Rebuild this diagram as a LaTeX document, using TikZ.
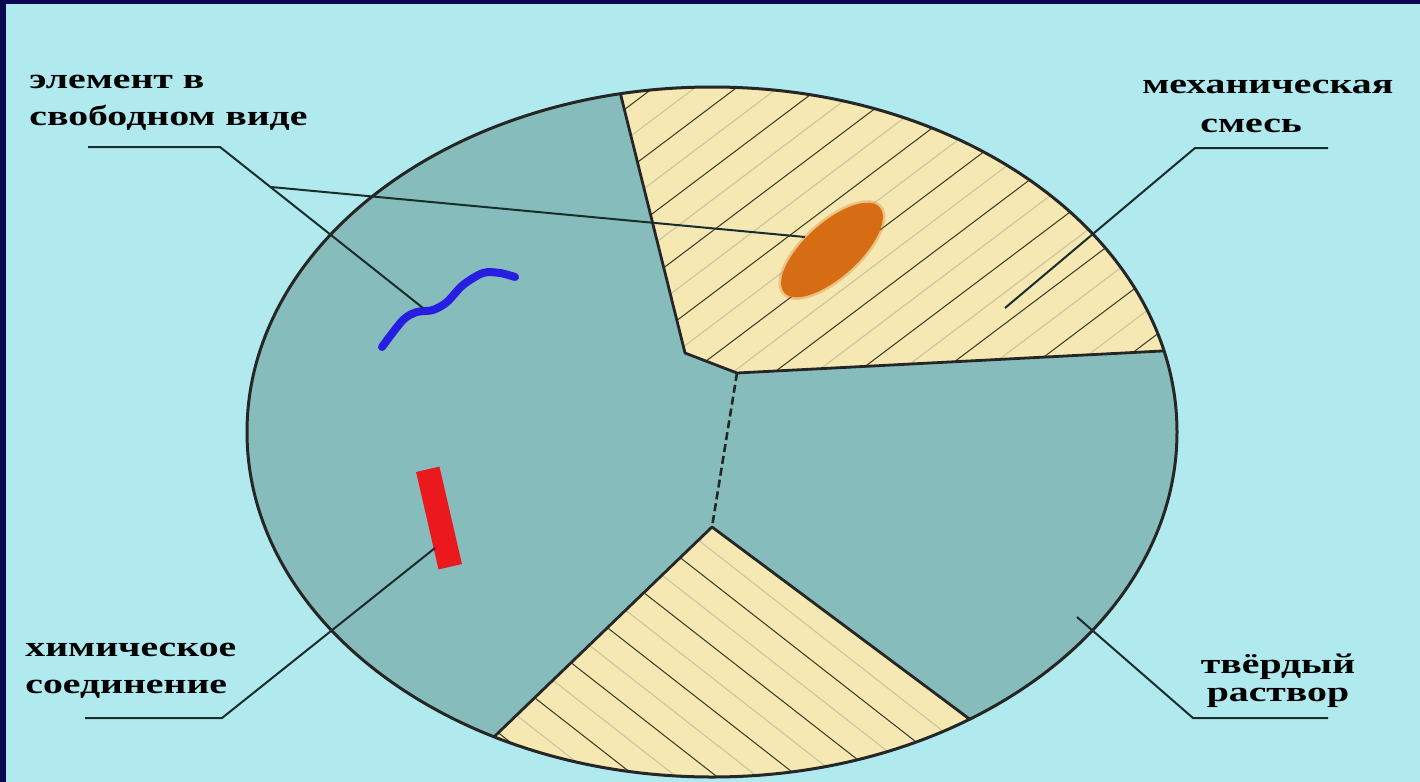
\documentclass[tikz,border=0pt]{standalone}
\usepackage{fontspec}
\newfontfamily\lblfont{Liberation Serif}[FakeStretch=1.4]
\usepackage{tikz}
\usetikzlibrary{shapes.geometric}
\definecolor{bgc}{RGB}{176,234,239}
\definecolor{navy}{RGB}{10,8,80}
\definecolor{grain}{RGB}{135,188,188}
\definecolor{cream}{RGB}{245,232,178}
\definecolor{hatchdark}{RGB}{55,55,40}
\definecolor{hatchlight}{RGB}{205,198,160}
\definecolor{leadc}{RGB}{25,45,45}
\definecolor{blobc}{RGB}{214,108,20}
\definecolor{squig}{RGB}{40,30,225}
\definecolor{barc}{RGB}{235,25,30}

\begin{document}
\begin{tikzpicture}[x=0.5pt,y=-0.5pt,
  lbl/.style={font=\lblfont\bfseries\fontsize{14.2}{18.5}\selectfont,inner sep=0pt},
  leader/.style={draw=leadc,line width=1pt},
  border/.style={draw=black!85,line width=1.4pt,line join=round},
  hatchd/.style={draw=hatchdark,line width=0.5pt},
  hatchl/.style={draw=hatchlight,line width=0.6pt}]
\useasboundingbox (0,0) rectangle (1420,782);
\fill[bgc] (0,0) rectangle (1420,782);
\fill[navy] (0,0) rectangle (1420,4);
\fill[navy] (0,0) rectangle (6,782);

\begin{scope}
\clip (712,432) ellipse [x radius=465,y radius=345];
\fill[grain] (200,50) rectangle (1220,800);
\begin{scope}
\clip (612,60)--(620,92)--(685,353)--(737,373)--(1162,351)--(1200,349)--(1200,60)--cycle;
\fill[cream] (600,50) rectangle (1220,400);
\begin{scope}[shift={(880,230)},rotate=37]
\foreach \k in {-9,...,9}{
  \draw[hatchd] (-420,\k*50)--(420,\k*50);
  \draw[hatchl] (-420,\k*50+25)--(420,\k*50+25);}
\end{scope}
\end{scope}
\begin{scope}
\clip (712,527)--(470,760)--(470,800)--(1010,800)--(995,738)--cycle;
\fill[cream] (450,500) rectangle (1020,800);
\begin{scope}[shift={(730,660)},rotate=-38]
\foreach \k in {-7,...,7}{
  \draw[hatchd] (-400,\k*50)--(400,\k*50);
  \draw[hatchl] (-400,\k*50+25)--(400,\k*50+25);}
\end{scope}
\end{scope}
\draw[border] (612,60)--(620,92)--(685,353)--(737,373)--(1162,351)--(1200,349);
\draw[border] (470,760)--(712,527)--(995,738);
\draw[border,line width=1.3pt,dash pattern=on 4pt off 2pt] (737,373)--(712,527);
\end{scope}
\draw[draw=black!85,line width=1.5pt] (712,432) ellipse [x radius=465,y radius=345];

\node[ellipse,fill=blobc,draw=blobc,draw opacity=0.3,line width=2.5pt,minimum width=64pt,minimum height=27pt,inner sep=0pt,rotate=42] (blob) at (832,250) {};
\node[fill=barc,minimum width=12pt,minimum height=50pt,inner sep=0pt,rotate=13] (bar) at (439,518) {};
\draw[draw=squig,line width=4pt,line cap=round] plot[smooth] coordinates {(382,347) (403,320) (417,312) (433,310) (447,302) (463,285) (483,273) (500,273) (515,277)};

\node[lbl,anchor=north west,align=left] (elemtxt) at (29,75) {элемент в\\свободном виде};
\node[lbl,anchor=north west,align=left,font=\lblfont\bfseries\fontsize{14.2}{19.5}\selectfont] (mixtxt) at (1142,80) {механическая\\\hspace*{29pt}смесь};
\node[lbl,anchor=north west,align=left] (chemtxt) at (25,643) {химическое\\соединение};
\node[lbl,anchor=north,align=center,font=\lblfont\bfseries\fontsize{14.2}{14}\selectfont] (soltxt) at (1278,654) {твёрдый\\раствор};

\coordinate (elemA) at (88,147);
\coordinate (elemB) at (220,147);
\coordinate (wire) at (423,308);
\coordinate (fork) at (271,187);
\coordinate (blobend) at (805,237);
\coordinate (mixA) at (1328,148);
\coordinate (mixB) at (1195,148);
\coordinate (mixend) at (1005,308);
\coordinate (chemA) at (85,718);
\coordinate (chemB) at (222,718);
\coordinate (barend) at (435,548);
\coordinate (solA) at (1328,718);
\coordinate (solB) at (1193,718);
\coordinate (solend) at (1077,617);

\draw[leader] (elemA)--(elemB)--(wire);
\draw[leader] (fork)--(blobend);
\draw[leader] (mixA)--(mixB)--(mixend);
\draw[leader] (chemA)--(chemB)--(barend);
\draw[leader] (solA)--(solB)--(solend);
\end{tikzpicture}
\end{document}
